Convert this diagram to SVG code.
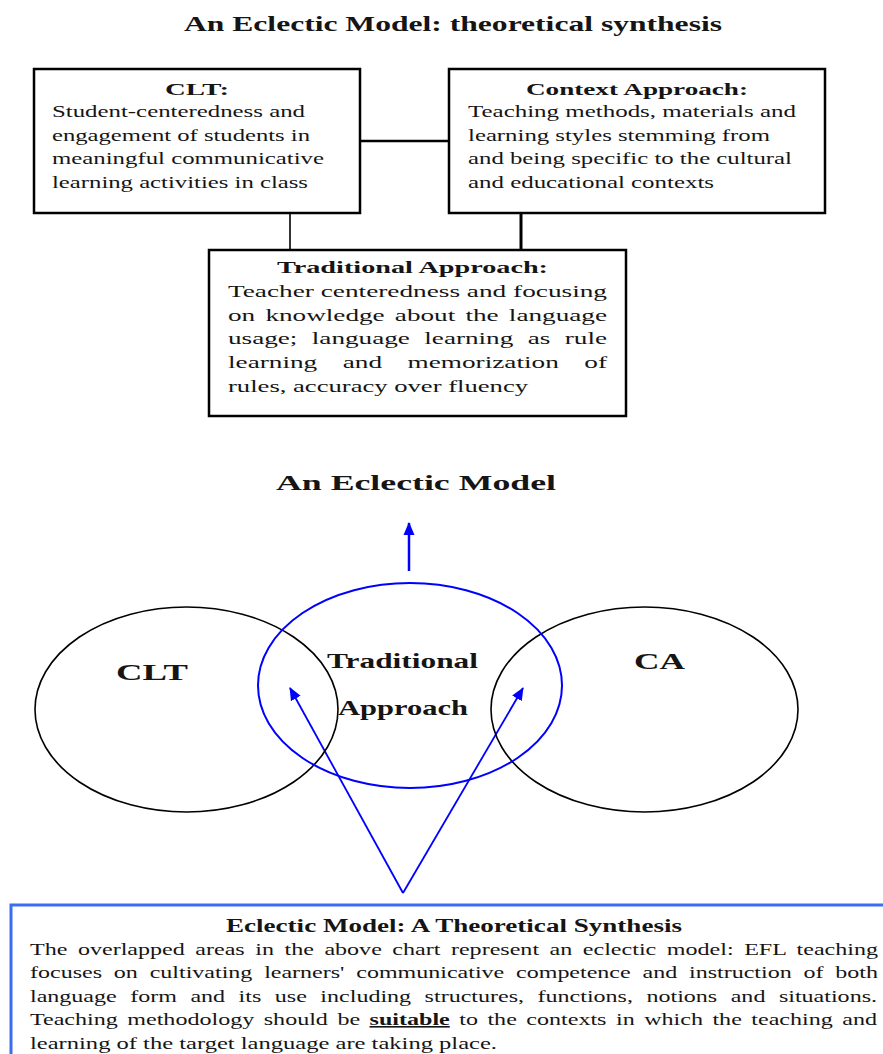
<svg xmlns="http://www.w3.org/2000/svg" width="883" height="1054" viewBox="0 0 883 1054">
<style>
text{font-family:"Liberation Serif","Times New Roman",serif;fill:#151515}
.t{font-size:21px;font-weight:bold}
.h{font-size:16px;font-weight:bold}
.b{font-size:16px}
.m{font-size:22px;font-weight:bold}
.c{font-size:24px;font-weight:bold}
.bt{font-size:18px;font-weight:bold}
.box{fill:#fff;stroke:#000;stroke-width:2.5}
.ln{stroke:#000;fill:none}
.bl{stroke:#0000ff;fill:none}
.ov{fill:none;stroke:#000;stroke-width:1.6}
</style>
<defs>
<marker id="ah" markerUnits="userSpaceOnUse" markerWidth="14" markerHeight="14" viewBox="0 0 14 14" refX="12" refY="7" orient="auto">
<path d="M0,1.5 L13,7 L0,12.5 Z" fill="#0000ff"/>
</marker>
</defs>
<text class="t" x="184" y="31" textLength="538" lengthAdjust="spacingAndGlyphs">An Eclectic Model: theoretical synthesis</text>
<g id="connectors">
<line class="ln" x1="354" y1="141" x2="449" y2="141" stroke-width="2.5"/>
<line class="ln" x1="290" y1="213" x2="290" y2="250" stroke-width="1.6"/>
<line class="ln" x1="521" y1="213" x2="521" y2="250" stroke-width="3"/>
<line class="bl" x1="409" y1="571" x2="409" y2="523" stroke-width="2.5" marker-end="url(#ah)"/>
<line class="bl" x1="403" y1="893" x2="290" y2="688" stroke-width="1.8" marker-end="url(#ah)"/>
<line class="bl" x1="403" y1="893" x2="523" y2="688" stroke-width="1.8" marker-end="url(#ah)"/>
</g>
<g id="clt-box">
<rect class="box" x="34" y="69" width="326" height="144"/>
<text class="h" x="165" y="95" textLength="64" lengthAdjust="spacingAndGlyphs">CLT:</text>
<text class="b" x="52" y="117" textLength="253" lengthAdjust="spacingAndGlyphs">Student-centeredness and</text>
<text class="b" x="52" y="141" textLength="258" lengthAdjust="spacingAndGlyphs">engagement of students in</text>
<text class="b" x="52" y="164" textLength="272" lengthAdjust="spacingAndGlyphs">meaningful communicative</text>
<text class="b" x="52" y="188" textLength="256" lengthAdjust="spacingAndGlyphs">learning activities in class</text>
</g>
<g id="context-box">
<rect class="box" x="449" y="69" width="376" height="144"/>
<text class="h" x="526" y="95" textLength="222" lengthAdjust="spacingAndGlyphs">Context Approach:</text>
<text class="b" x="468" y="117" textLength="328" lengthAdjust="spacingAndGlyphs">Teaching methods, materials and</text>
<text class="b" x="468" y="141" textLength="302" lengthAdjust="spacingAndGlyphs">learning styles stemming from</text>
<text class="b" x="468" y="164" textLength="324" lengthAdjust="spacingAndGlyphs">and being specific to the cultural</text>
<text class="b" x="468" y="188" textLength="246" lengthAdjust="spacingAndGlyphs">and educational contexts</text>
</g>
<g id="traditional-box">
<rect class="box" x="209" y="250" width="417" height="166"/>
<text class="h" x="277" y="273" textLength="271" lengthAdjust="spacingAndGlyphs">Traditional Approach:</text>
<text class="b" x="228" y="297" textLength="379" lengthAdjust="spacingAndGlyphs">Teacher centeredness and focusing</text>
<text class="b" x="228" y="321" textLength="379" lengthAdjust="spacingAndGlyphs" word-spacing="2">on knowledge about the language</text>
<text class="b" x="228" y="344" textLength="379" lengthAdjust="spacingAndGlyphs" word-spacing="4.5">usage; language learning as rule</text>
<text class="b" x="228" y="368" textLength="379" lengthAdjust="spacingAndGlyphs" word-spacing="11">learning and memorization of</text>
<text class="b" x="228" y="392" textLength="300" lengthAdjust="spacingAndGlyphs">rules, accuracy over fluency</text>
</g>
<text class="m" x="276" y="490" textLength="280" lengthAdjust="spacingAndGlyphs">An Eclectic Model</text>
<g id="clt-circle">
<ellipse class="ov" cx="186.5" cy="709.5" rx="151.5" ry="102.5"/>
<text class="c" x="116" y="680" textLength="72" lengthAdjust="spacingAndGlyphs">CLT</text>
</g>
<g id="ca-circle">
<ellipse class="ov" cx="644.5" cy="709.5" rx="153.5" ry="102.5"/>
<text class="c" x="634" y="669" textLength="51" lengthAdjust="spacingAndGlyphs">CA</text>
</g>
<g id="traditional-circle">
<ellipse class="bl" cx="410" cy="685.5" rx="152" ry="102.5" stroke-width="2"/>
<text class="m" x="327" y="668" textLength="151" lengthAdjust="spacingAndGlyphs">Traditional</text>
<text class="m" x="338" y="715" textLength="130" lengthAdjust="spacingAndGlyphs">Approach</text>
</g>
<g id="synthesis-box">
<rect x="11" y="905" width="890" height="200" fill="#fff" stroke="#3a6df0" stroke-width="3"/>
<text class="bt" x="226" y="932" textLength="456" lengthAdjust="spacingAndGlyphs">Eclectic Model: A Theoretical Synthesis</text>
<text class="b" x="30" y="955" textLength="848" lengthAdjust="spacingAndGlyphs" word-spacing="3">The overlapped areas in the above chart represent an eclectic model: EFL teaching</text>
<text class="b" x="30" y="978" textLength="848" lengthAdjust="spacingAndGlyphs" word-spacing="3.9">focuses on cultivating learners' communicative competence and instruction of both</text>
<text class="b" x="30" y="1002" textLength="847" lengthAdjust="spacingAndGlyphs" word-spacing="5">language form and its use including structures, functions, notions and situations.</text>
<text class="b" x="30" y="1025" textLength="847" lengthAdjust="spacingAndGlyphs" word-spacing="2.3">Teaching methodology should be <tspan font-weight="bold" text-decoration="underline">suitable</tspan> to the contexts in which the teaching and</text>
<text class="b" x="30" y="1049" textLength="467" lengthAdjust="spacingAndGlyphs">learning of the target language are taking place.</text>
</g>
</svg>
